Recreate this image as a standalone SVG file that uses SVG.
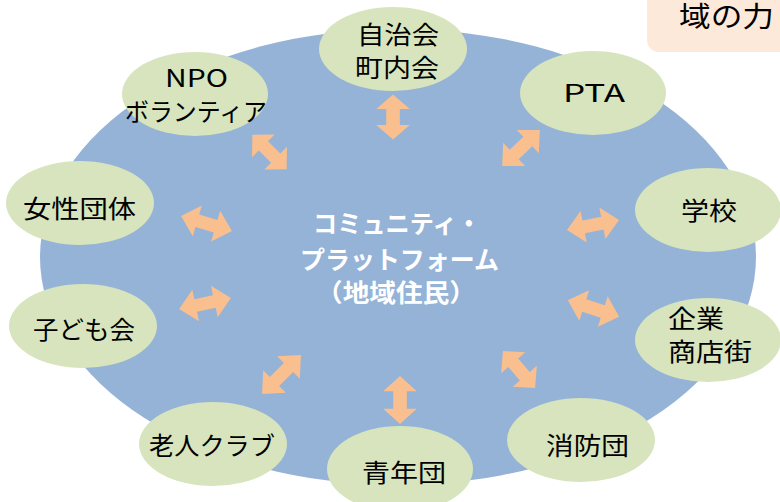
<svg xmlns="http://www.w3.org/2000/svg" xmlns:xlink="http://www.w3.org/1999/xlink" width="780" height="502" viewBox="0 0 780 502">
<style>
.node{fill:#D7E4BD;}
.lbl{font-family:"Noto Sans CJK JP","Noto Sans",sans-serif;font-size:24.5px;fill:#000;}
.ctr{font-family:"Noto Sans CJK JP","Noto Sans",sans-serif;font-size:25px;font-weight:bold;fill:#FFFFFF;}
.arr{fill:#F9BF8F;}
</style>
<defs>
<path id="arrow" d="M-25,0 L-9,-16 L-9,-6.5 L9,-6.5 L9,-16 L25,0 L9,16 L9,6.5 L-9,6.5 L-9,16 Z"/>
</defs>
<rect width="780" height="502" fill="#FFFFFF"/>
<g id="title-box">
<rect x="647" y="-20" width="160" height="72" rx="12" fill="#FDE9D9"/>
<text x="679" y="27" font-family="&quot;Noto Sans CJK JP&quot;,sans-serif" font-size="28" textLength="95" lengthAdjust="spacingAndGlyphs" fill="#000">域の力</text>
</g>
<g id="platform">
<ellipse cx="398" cy="257" rx="358" ry="228" fill="#95B3D7"/>
<text class="ctr" x="313" y="233" textLength="168" lengthAdjust="spacingAndGlyphs">コミュニティ・</text>
<text class="ctr" x="300" y="269" textLength="199" lengthAdjust="spacingAndGlyphs">プラットフォーム</text>
<text class="ctr" x="316" y="302" textLength="160" lengthAdjust="spacingAndGlyphs">（地域住民）</text>
</g>
<g id="connectors" class="arr">
<use xlink:href="#arrow" transform="translate(393,117) rotate(90) scale(0.9,1.05)"/>
<use xlink:href="#arrow" transform="translate(269.5,152) rotate(45) scale(0.97,1)"/>
<use xlink:href="#arrow" transform="translate(521,148) rotate(-43.5) scale(1.04,1)"/>
<use xlink:href="#arrow" transform="translate(206.5,223.5) rotate(16.4) scale(1.06,1)"/>
<use xlink:href="#arrow" transform="translate(593,225) rotate(-11) scale(1.06,1)"/>
<use xlink:href="#arrow" transform="translate(205,303.5) rotate(-12) scale(1.06,1)"/>
<use xlink:href="#arrow" transform="translate(593.5,308.5) rotate(18) scale(1.08,1)"/>
<use xlink:href="#arrow" transform="translate(281.5,374.5) rotate(-45) scale(1.1,1)"/>
<use xlink:href="#arrow" transform="translate(400,400) rotate(90) scale(0.96,1.05)"/>
<use xlink:href="#arrow" transform="translate(519,369.5) rotate(49) scale(0.98,1)"/>
</g>
<g id="jichikai">
<ellipse class="node" cx="393" cy="49" rx="74" ry="42"/>
<text class="lbl" x="357" y="44" textLength="82" lengthAdjust="spacingAndGlyphs">自治会</text>
<text class="lbl" x="355" y="77" textLength="84" lengthAdjust="spacingAndGlyphs">町内会</text>
</g>
<g id="npo">
<ellipse class="node" cx="195" cy="94" rx="73" ry="42"/>
<text class="lbl" x="165" y="87" textLength="63" lengthAdjust="spacingAndGlyphs">NPO</text>
<text class="lbl" x="125" y="121" textLength="142" lengthAdjust="spacingAndGlyphs">ボランティア</text>
</g>
<g id="pta">
<ellipse class="node" cx="593" cy="93" rx="73" ry="42"/>
<text class="lbl" x="563" y="102" textLength="62" lengthAdjust="spacingAndGlyphs">PTA</text>
</g>
<g id="josei">
<ellipse class="node" cx="80" cy="203" rx="74" ry="42"/>
<text class="lbl" x="23" y="218" textLength="113" lengthAdjust="spacingAndGlyphs">女性団体</text>
</g>
<g id="gakko">
<ellipse class="node" cx="708" cy="210" rx="73" ry="42"/>
<text class="lbl" x="681" y="220" textLength="56" lengthAdjust="spacingAndGlyphs">学校</text>
</g>
<g id="kodomokai">
<ellipse class="node" cx="83" cy="326" rx="74" ry="42"/>
<text class="lbl" x="33" y="339" textLength="102" lengthAdjust="spacingAndGlyphs">子ども会</text>
</g>
<g id="kigyo">
<ellipse class="node" cx="708" cy="340" rx="73" ry="42"/>
<text class="lbl" x="668" y="328" textLength="56" lengthAdjust="spacingAndGlyphs">企業</text>
<text class="lbl" x="668" y="361" textLength="84" lengthAdjust="spacingAndGlyphs">商店街</text>
</g>
<g id="rojin">
<ellipse class="node" cx="213" cy="444" rx="74" ry="42"/>
<text class="lbl" x="149" y="455" textLength="126" lengthAdjust="spacingAndGlyphs">老人クラブ</text>
</g>
<g id="seinendan">
<ellipse class="node" cx="400" cy="469" rx="73" ry="43"/>
<text class="lbl" x="362" y="482" textLength="84" lengthAdjust="spacingAndGlyphs">青年団</text>
</g>
<g id="shobodan">
<ellipse class="node" cx="581" cy="440" rx="74" ry="42"/>
<text class="lbl" x="546" y="455" textLength="83" lengthAdjust="spacingAndGlyphs">消防団</text>
</g>
</svg>
